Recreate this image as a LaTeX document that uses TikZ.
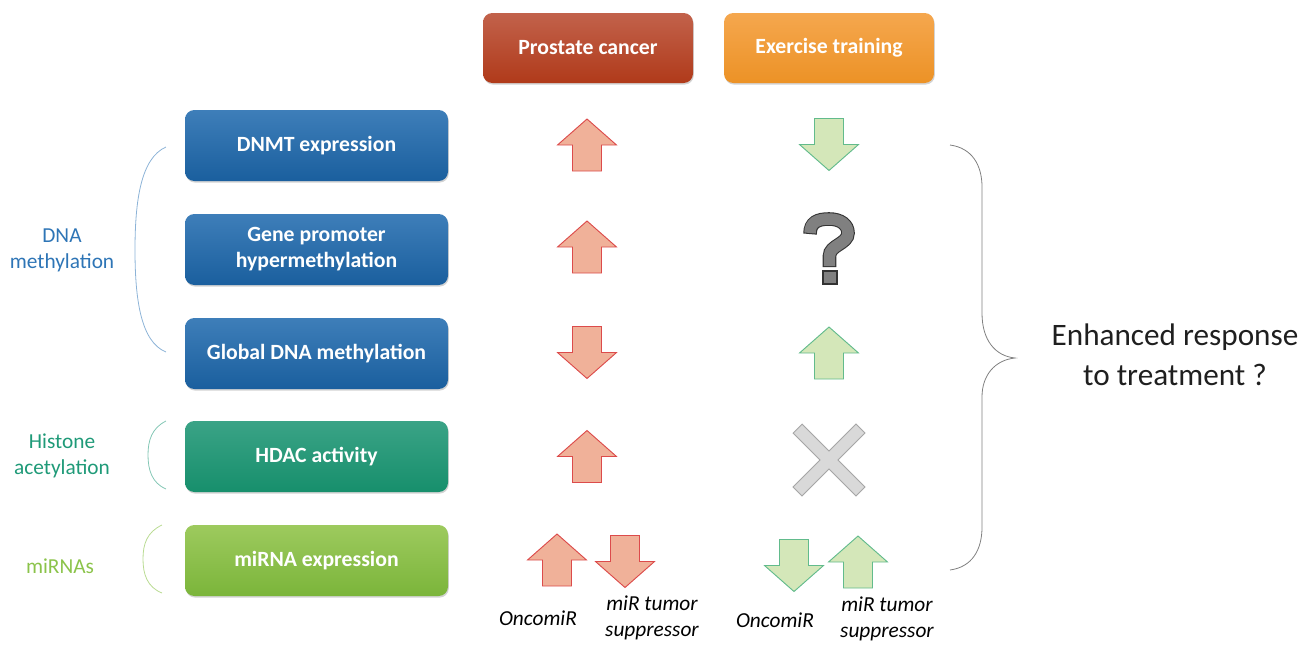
\documentclass[tikz,border=0pt]{standalone}
\usepackage{fontspec}
\setmainfont{Carlito}
\usetikzlibrary{shadows}
\definecolor{pcTop}{HTML}{C2624B}
\definecolor{pcBot}{HTML}{B03A1A}
\definecolor{exTop}{HTML}{F5A74E}
\definecolor{exBot}{HTML}{EC9226}
\definecolor{blTop}{HTML}{3E7EB9}
\definecolor{blBot}{HTML}{1A5F9E}
\definecolor{tlTop}{HTML}{3AA386}
\definecolor{tlBot}{HTML}{178F6C}
\definecolor{lgTop}{HTML}{9DCA5E}
\definecolor{lgBot}{HTML}{7BB53A}
\definecolor{dnaText}{HTML}{2E75B6}
\definecolor{hisText}{HTML}{1F9A78}
\definecolor{mirText}{HTML}{8BC34A}
\definecolor{redFill}{HTML}{F0B199}
\definecolor{redLine}{HTML}{DC4B4B}
\definecolor{grnFill}{HTML}{D4E7B9}
\definecolor{grnLine}{HTML}{62BB8C}
\definecolor{qFill}{HTML}{808080}
\definecolor{qLine}{HTML}{333333}
\definecolor{xFill}{HTML}{D9D9D9}
\definecolor{xLine}{HTML}{A6A6A6}
\tikzset{
  basebox/.style={rounded corners=7pt, inner sep=0pt, text=white,
    font=\fontsize{16.3}{19.5}\selectfont\bfseries, align=center,
    drop shadow={shadow xshift=0.6pt, shadow yshift=-1.2pt, opacity=0.35}},
  leftbox/.style={basebox, minimum width=197.25pt, minimum height=53.25pt},
  bluebox/.style={leftbox, top color=blTop, bottom color=blBot},
  tealbox/.style={leftbox, top color=tlTop, bottom color=tlBot},
  lgreenbox/.style={leftbox, top color=lgTop, bottom color=lgBot},
  pcbox/.style={basebox, minimum width=157.5pt, minimum height=52.5pt, top color=pcTop, bottom color=pcBot},
  exbox/.style={basebox, minimum width=157.5pt, minimum height=52.5pt, top color=exTop, bottom color=exBot},
  sidelabel/.style={align=center, font=\fontsize{16}{19.5}\selectfont, inner sep=0pt},
  miRlabel/.style={align=center, font=\fontsize{16}{19.5}\selectfont\itshape, inner sep=0pt},
  redarrow/.style={fill=redFill, draw=redLine, line width=0.7pt, line join=miter},
  grnarrow/.style={fill=grnFill, draw=grnLine, line width=0.7pt, line join=miter},
  pics/uparr/.style={code={\path[#1] (0,-26) -- (29.5,0) -- (14.5,0) -- (14.5,26) -- (-14.5,26) -- (-14.5,0) -- (-29.5,0) -- cycle;}},
  pics/downarr/.style={code={\path[#1] (0,26) -- (29.5,0) -- (14.5,0) -- (14.5,-26) -- (-14.5,-26) -- (-14.5,0) -- (-29.5,0) -- cycle;}},
}
\begin{document}
\begin{tikzpicture}[x=0.75pt,y=-0.75pt]
\useasboundingbox (0,0) rectangle (1316,644);

% top headers
\node[pcbox] (pc) at (588,48) {Prostate cancer};
\node[exbox] (ex) at (829,48) {Exercise training};

% left boxes
\node[bluebox] (dnmt) at (316.5,145.5) {DNMT expression};
\node[bluebox] (gene) at (316.5,249.5) {Gene promoter\\hypermethylation};
\node[bluebox] (glob) at (316.5,353.5) {Global DNA methylation};
\node[tealbox] (hdac) at (316.5,456.5) {HDAC activity};
\node[lgreenbox] (mirna) at (316.5,560.5) {miRNA expression};

% side labels
\node[sidelabel, text=dnaText] (dnalab) at (62,250) {DNA\\methylation};
\node[sidelabel, text=hisText] (hislab) at (62,456) {Histone\\acetylation};
\node[sidelabel, text=mirText] (mirlab) at (60,566) {miRNAs};

% left brackets
\draw[draw=dnaText!55, line width=0.6pt] (166,147) .. controls (141,158) and (135,200) .. (135,250) .. controls (135,300) and (141,342) .. (166,352);
\draw[draw=hisText!55, line width=0.6pt] (166,421) .. controls (152,428) and (148,440) .. (148,455) .. controls (148,470) and (152,483) .. (166,489);
\draw[draw=mirText!60, line width=0.6pt] (162,525) .. controls (147,532) and (143,544) .. (143,559) .. controls (143,574) and (147,587) .. (162,593);

% prostate cancer column
\pic at (587,145) {uparr=redarrow};
\pic at (587,247) {uparr=redarrow};
\pic at (587,352.5) {downarr=redarrow};
\pic at (587,456.5) {uparr=redarrow};
\pic at (557,560) {uparr=redarrow};
\pic at (625,561.5) {downarr=redarrow};

% exercise column
\pic at (829,144.5) {downarr=grnarrow};
\pic at (829,353) {uparr=grnarrow};
\pic at (794,565.5) {downarr=grnarrow};
\pic at (858,562) {uparr=grnarrow};

% question mark
\draw[qLine, line width=10.2pt, shorten <=-0.8pt, shorten >=-0.8pt] (810,233) .. controls (810,222) and (818,219) .. (829,219) .. controls (841,219) and (848,225) .. (848,233) .. controls (848,244) and (829.5,245) .. (829.5,256) -- (829.5,266);
\draw[qFill, line width=8.6pt] (810,233) .. controls (810,222) and (818,219) .. (829,219) .. controls (841,219) and (848,225) .. (848,233) .. controls (848,244) and (829.5,245) .. (829.5,256) -- (829.5,266);
\draw[fill=qFill, draw=qLine, line width=0.8pt] (823,271) rectangle (837,284);

% cross
\draw[xLine, line width=10.2pt, shorten <=-0.8pt, shorten >=-0.8pt] (798,429) -- (860,491);
\draw[xLine, line width=10.2pt, shorten <=-0.8pt, shorten >=-0.8pt] (860,429) -- (798,491);
\draw[xFill, line width=8.6pt] (798,429) -- (860,491);
\draw[xFill, line width=8.6pt] (860,429) -- (798,491);

% miR labels
\node[miRlabel] (onc1) at (538,618) {OncomiR};
\node[miRlabel] (sup1) at (652,617.5) {miR tumor\\suppressor};
\node[miRlabel] (onc2) at (775,620) {OncomiR};
\node[miRlabel] (sup2) at (887,619) {miR tumor\\suppressor};

% right brace
\draw[gray, line width=0.6pt] (950,145) .. controls (972,148) and (982,165) .. (982,187) -- (982,313) .. controls (982,340) and (995,356) .. (1015,358) .. controls (995,360) and (982,375) .. (982,397) -- (982,527) .. controls (982,550) and (972,567) .. (950,570);

\node[align=center, font=\fontsize{23.4}{30}\selectfont, text=black!88, inner sep=0pt] (resp) at (1175,355) {Enhanced response\\to treatment ?};
\end{tikzpicture}
\end{document}
